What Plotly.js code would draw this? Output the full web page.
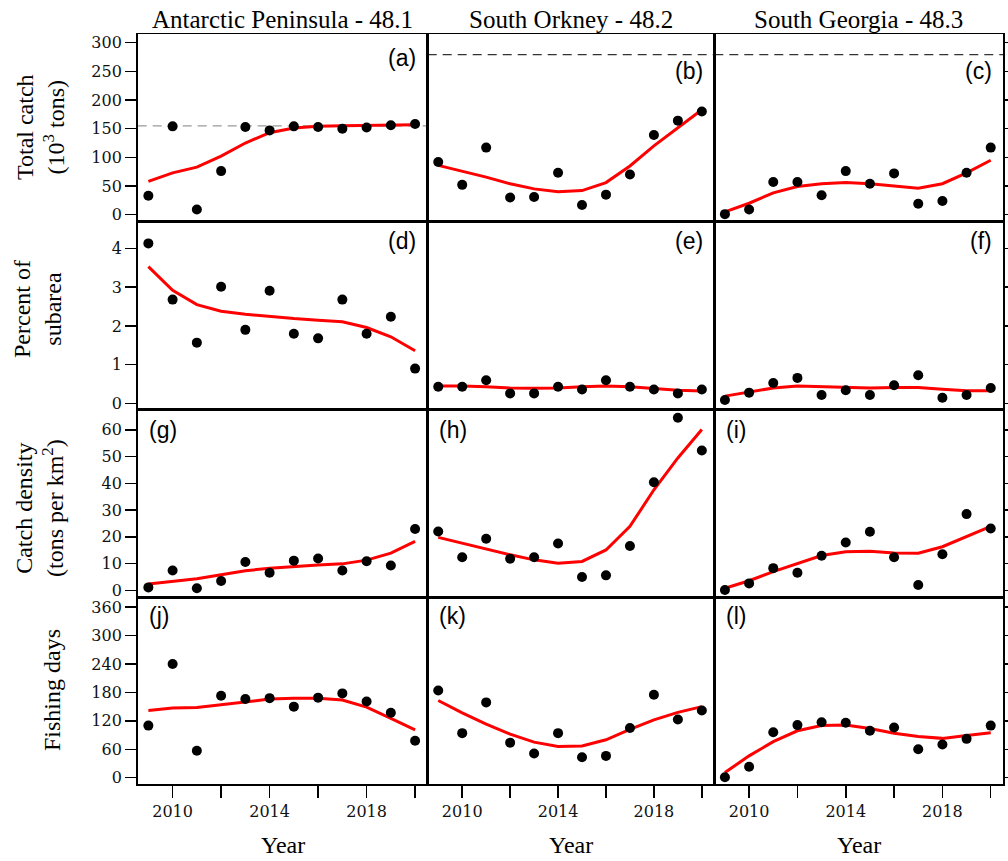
<!DOCTYPE html>
<html><head><meta charset="utf-8">
<script src="https://cdn.plot.ly/plotly-3.0.1.min.js"></script>
<style>body{margin:0;background:#fff}</style>
</head><body>
<div id="chart" style="width:1008px;height:861px"></div>
<script>
// ---------- data ----------
const years = [2009,2010,2011,2012,2013,2014,2015,2016,2017,2018,2019,2020];
const subareas = ["Antarctic Peninsula - 48.1", "South Orkney - 48.2", "South Georgia - 48.3"];
const rowTitles = ["Total catch<br>(10<sup>3</sup> tons)", "Percent of<br>subarea", "Catch density<br>(tons per km<sup>2</sup>)", "Fishing days"];
const panelLetters = ["(a)","(b)","(c)","(d)","(e)","(f)","(g)","(h)","(i)","(j)","(k)","(l)"];
const triggerLevels = [155, 279, 279];   // 10^3 tons, dashed reference lines

// Total catch (10^3 tons)
const catchObs481 = [33, 154, 9, 76, 153, 147, 154, 153, 150, 152, 156, 158];
const catchFit481 = [58, 73, 83, 102, 125, 143, 151, 154, 155, 155.5, 156, 157];
const catchObs482 = [92, 52, 117, 30, 31, 73, 17, 35, 70, 139, 164, 180];
const catchFit482 = [86, 76, 65.5, 54, 45, 40, 42, 56, 85, 120, 152, 183];
const catchObs483 = [1, 9, 57, 57, 34, 76, 54, 72, 19, 24, 73, 117];
const catchFit483 = [5, 20, 38, 49, 54, 56, 54, 50, 46, 54, 73, 95];

// Percent of subarea
const pctObs481 = [4.13, 2.68, 1.57, 3.01, 1.90, 2.91, 1.80, 1.68, 2.68, 1.80, 2.24, 0.90];
const pctFit481 = [3.53, 2.92, 2.55, 2.38, 2.30, 2.24, 2.19, 2.15, 2.11, 1.96, 1.72, 1.36];
const pctObs482 = [0.43, 0.43, 0.60, 0.26, 0.26, 0.43, 0.36, 0.60, 0.43, 0.36, 0.26, 0.36];
const pctFit482 = [0.45, 0.45, 0.43, 0.40, 0.39, 0.40, 0.43, 0.45, 0.43, 0.39, 0.34, 0.32];
const pctObs483 = [0.09, 0.28, 0.53, 0.66, 0.22, 0.34, 0.22, 0.47, 0.73, 0.15, 0.22, 0.40];
const pctFit483 = [0.19, 0.30, 0.40, 0.45, 0.43, 0.41, 0.40, 0.41, 0.41, 0.37, 0.33, 0.33];

// Catch density (tons per km^2)
const densObs481 = [1.1, 7.4, 0.8, 3.5, 10.6, 6.6, 11.1, 11.9, 7.4, 10.9, 9.3, 22.9];
const densFit481 = [2.4, 3.3, 4.3, 5.8, 7.3, 8.3, 9.0, 9.5, 9.9, 11.3, 13.9, 18.3];
const densObs482 = [22, 12.4, 19.3, 11.8, 12.4, 17.5, 5.0, 5.6, 16.6, 40.4, 64.5, 52.3];
const densFit482 = [19.8, 17.6, 15.5, 13.3, 11.4, 10.1, 10.8, 15.1, 23.9, 37.6, 49.5, 60.1];
const densObs483 = [0.1, 2.6, 8.3, 6.6, 12.9, 17.9, 21.9, 12.4, 2.0, 13.5, 28.5, 23.1];
const densFit483 = [0.8, 3.6, 7.0, 10.1, 13.0, 14.4, 14.6, 14.0, 13.9, 16.3, 20.0, 23.9];

// Fishing days
const daysObs481 = [110, 240, 57, 173, 166, 168, 150, 169, 178, 161, 137, 78];
const daysFit481 = [142, 147, 148, 154, 161, 166, 168, 168, 164, 149, 125, 101];
const daysObs482 = [184, 94, 159, 74, 51, 94, 43, 46, 105, 175, 123, 142];
const daysFit482 = [163, 137, 113, 92, 75, 66, 67, 80, 102, 122, 138, 150];
const daysObs483 = [1, 23, 96, 111, 117, 116, 99, 106, 60, 70, 82, 110];
const daysFit483 = [11, 46, 76, 99, 110, 111, 104, 94, 87, 83, 89, 95];

// axis ticks
const xTickVals = [2010, 2014, 2018];
const xTickText = ["2010", "2014", "2018"];
const xMinorTickVals = [2012, 2016, 2020];
const yTickVals = [
  [0, 50, 100, 150, 200, 250, 300],
  [0, 1, 2, 3, 4],
  [0, 10, 20, 30, 40, 50, 60],
  [0, 60, 120, 180, 240, 300, 360]
];
const yRanges = [[-12.2, 314.5], [-0.155, 4.69], [-2.6, 67.6], [-13.4, 381]];
const xRange = [2008.56, 2020.52];

const obs = [
  [catchObs481, catchObs482, catchObs483],
  [pctObs481, pctObs482, pctObs483],
  [densObs481, densObs482, densObs483],
  [daysObs481, daysObs482, daysObs483]
];
const fit = [
  [catchFit481, catchFit482, catchFit483],
  [pctFit481, pctFit482, pctFit483],
  [densFit481, densFit482, densFit483],
  [daysFit481, daysFit482, daysFit483]
];

// ---------- layout geometry (pixels) ----------
const W = 1008, H = 861;
const colEdges = [137.7, 427.7, 714.3, 1003.3];
const rowEdges = [34.3, 221.7, 409.5, 597.3, 784];
const px = v => v / W;
const py = v => 1 - v / H;

const tickFont = {family: "DejaVu Serif", size: 16, color: "#111"};
const serif = "Liberation Serif";

const traces = [];
const layout = {
  width: W, height: H,
  margin: {l: 0, r: 0, t: 0, b: 0},
  paper_bgcolor: "#fff", plot_bgcolor: "#fff",
  showlegend: false,
  shapes: [], annotations: []
};

for (let r = 0; r < 4; r++) {
  for (let c = 0; c < 3; c++) {
    const i = r * 3 + c;
    const n = i === 0 ? "" : String(i + 1);
    const xa = "x" + n, ya = "y" + n;
    traces.push({
      x: years, y: fit[r][c], xaxis: xa, yaxis: ya, type: "scatter", mode: "lines",
      line: {color: "#ff0000", width: 3}, hoverinfo: "skip"
    });
    traces.push({
      x: years, y: obs[r][c], xaxis: xa, yaxis: ya, type: "scatter", mode: "markers",
      marker: {color: "#000", size: 10}
    });
    const bottom = r === 3;
    const xax = {
      domain: [px(colEdges[c]), px(colEdges[c + 1])],
      range: xRange, anchor: ya,
      showline: true, linecolor: "#000", linewidth: 1.6, mirror: true,
      showgrid: false, zeroline: false,
      ticks: bottom ? "outside" : "", ticklen: 12, tickwidth: 1.5, tickcolor: "#000",
      tickmode: "array", tickvals: xTickVals, ticktext: xTickText,
      showticklabels: bottom, tickfont: tickFont
    };
    if (bottom) {
      xax.minor = {tickmode: "array", tickvals: xMinorTickVals, ticks: "outside",
                   ticklen: 12, tickwidth: 1.5, tickcolor: "#000", showgrid: false};
    }
    layout["xaxis" + n] = xax;
    const yax = {
      domain: [py(rowEdges[r + 1]), py(rowEdges[r])],
      range: yRanges[r], anchor: xa,
      showline: true, linecolor: "#000", linewidth: 1.6, mirror: true,
      showgrid: false, zeroline: false,
      tickmode: "array", tickvals: yTickVals[r],
      ticklen: 11, tickwidth: 1.5, tickcolor: "#000",
      tickfont: tickFont
    };
    if (c === 0) { yax.ticks = "outside"; yax.showticklabels = true; }
    else if (c === 1) { yax.ticks = ""; yax.showticklabels = false; }
    else { yax.ticks = "outside"; yax.side = "right"; yax.showticklabels = false; yax.ticklen = 7; }
    layout["yaxis" + n] = yax;

    if (r === 0) {
      layout.shapes.push({
        type: "line", xref: xa + " domain", yref: ya,
        x0: 0, x1: 1, y0: triggerLevels[c], y1: triggerLevels[c],
        line: {color: c === 0 ? "#999" : "#333", width: 1.3, dash: "9px,6px"},
        layer: "below"
      });
    }

    // panel letter
    const top = r < 2;
    let ly;
    if (r === 0) ly = c === 0 ? 57.5 : 71;
    else if (r === 1) ly = 240.7;
    else if (r === 2) ly = 429.5;
    else ly = 616;
    layout.annotations.push({
      xref: "paper", yref: "paper",
      x: top ? px(colEdges[c + 1] - 9.5) : px(colEdges[c] + 9.5),
      xanchor: top ? "right" : "left",
      y: py(ly), yanchor: "middle",
      text: panelLetters[i], showarrow: false,
      font: {family: "Liberation Sans", size: 23, color: "#000"}
    });
  }
}

// column titles and Year labels
for (let c = 0; c < 3; c++) {
  const cx = px((colEdges[c] + colEdges[c + 1]) / 2);
  layout.annotations.push({
    xref: "paper", yref: "paper", x: cx, y: py(19), xanchor: "center", yanchor: "middle",
    text: subareas[c], showarrow: false, font: {family: serif, size: 25, color: "#000"}
  });
  layout.annotations.push({
    xref: "paper", yref: "paper", x: cx, y: py(860), xanchor: "center", yanchor: "bottom",
    text: "Year", showarrow: false, font: {family: serif, size: 24, color: "#000"}
  });
}

// row titles
const rowTitleX = [40, 38, 39, 52];
const rowTitleY = [127, 309, 508, 690];
for (let r = 0; r < 4; r++) {
  layout.annotations.push({
    xref: "paper", yref: "paper", x: px(rowTitleX[r]), y: py(rowTitleY[r]),
    xanchor: "center", yanchor: "middle", textangle: -90,
    text: rowTitles[r], showarrow: false, font: {family: serif, size: 24, color: "#000"}
  });
}

Plotly.newPlot("chart", traces, layout, {displayModeBar: false, staticPlot: true});
</script>
</body></html>
